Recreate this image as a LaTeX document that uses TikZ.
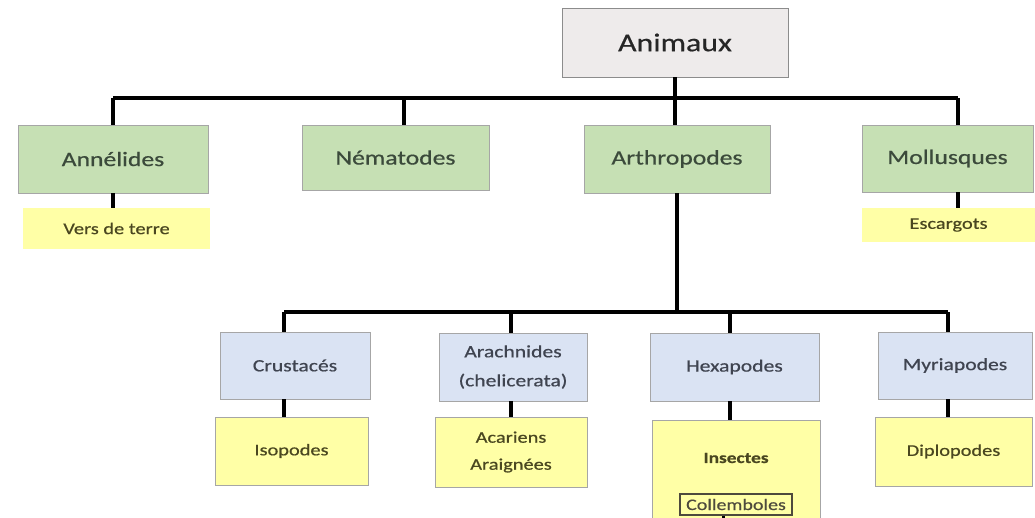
\documentclass[tikz,border=0pt]{standalone}
\usepackage{fontspec}
\setmainfont{Carlito}[FakeStretch=1.25, FakeBold=0.6]
\definecolor{grayfill}{HTML}{EEEBEB}
\definecolor{greenfill}{HTML}{C6E0B4}
\definecolor{bluefill}{HTML}{DAE3F3}
\definecolor{yellowfill}{HTML}{FFFFA6}
\definecolor{boxline}{HTML}{A6A6A6}
\definecolor{gtext}{HTML}{3B4A3B}
\definecolor{btext}{HTML}{3F4450}
\definecolor{ytext}{HTML}{4A4720}
\tikzset{
  basebox/.style={rectangle, draw=boxline, line width=0.9pt, inner sep=0pt, align=center},
  graybox/.style={basebox, fill=grayfill, draw=gray!90, text=black!85, font=\fontsize{25.5}{30}\selectfont},
  greenbox/.style={basebox, fill=greenfill, text=gtext, font=\fontsize{20.5}{25}\selectfont},
  bluebox/.style={basebox, fill=bluefill, text=btext, font=\fontsize{17.3}{29}\selectfont},
  yellowbox/.style={basebox, fill=yellowfill, text=ytext, font=\fontsize{16.3}{27}\selectfont},
  yellowplain/.style={yellowbox, draw=none},
  conn/.style={draw=black, line width=4pt},
}
\begin{document}
\begin{tikzpicture}[x=1pt, y=-1pt]
\useasboundingbox (0,0) rectangle (1035,517);
\clip (0,0) rectangle (1035,517);
% top level
\node[graybox, minimum width=226pt, minimum height=69pt] (anim) at (675,42.5) {Animaux};
\node[greenbox, minimum width=190pt, minimum height=68pt] (ann) at (113,159) {Annélides};
\node[greenbox, minimum width=187pt, minimum height=65pt] (nem) at (395.5,157.5) {Nématodes};
\node[greenbox, minimum width=186pt, minimum height=68pt] (arth) at (677,159) {Arthropodes};
\node[greenbox, minimum width=171pt, minimum height=67pt] (moll) at (947.5,158.5) {Mollusques};
\node[yellowplain, minimum width=187pt, minimum height=41pt] (vers) at (116.5,228.5) {Vers de terre};
\node[yellowplain, minimum width=173pt, minimum height=34pt] (esc) at (948.5,225) {Escargots};
% second level
\node[bluebox, minimum width=150pt, minimum height=67pt] (crus) at (295,365.5) {Crustacés};
\node[bluebox, minimum width=148pt, minimum height=68pt] (arach) at (513,367) {Arachnides\\(chelicerata)};
\node[bluebox, minimum width=169pt, minimum height=68pt] (hexa) at (734.5,367) {Hexapodes};
\node[bluebox, minimum width=154pt, minimum height=67pt] (myri) at (955,365.5) {Myriapodes};
\node[yellowbox, minimum width=153pt, minimum height=68pt] (iso) at (291.5,451) {Isopodes};
\node[yellowbox, minimum width=152pt, minimum height=70pt] (acar) at (511,452) {Acariens\\Araignées};
\node[yellowbox, minimum width=168pt, minimum height=120pt, anchor=north] (ins) at (736,420) {};
\node[text=ytext, font=\bfseries\fontsize{15.5}{18}\selectfont] (insl) at (736,458) {Insectes};
\node[rectangle, draw=black!80!yellow, line width=1.2pt, fill=yellowfill, text=black!80!yellow, inner sep=0pt, minimum width=112pt, minimum height=21pt, font=\fontsize{16}{18}\selectfont] (coll) at (736,504.5) {Collemboles};
\node[yellowbox, minimum width=157pt, minimum height=69pt] (diplo) at (953.5,451.5) {Diplopodes};
% bus coordinates
\coordinate (b1) at (113,98);
\coordinate (b2) at (404,98);
\coordinate (b3) at (677,98);
\coordinate (b4) at (958,98);
\coordinate (c1) at (284,312);
\coordinate (c2) at (511,312);
\coordinate (c3) at (730,312);
\coordinate (c4) at (948,312);
\coordinate (cend) at (723,530);
% top connectors
\draw[conn] (b1) -- (b4);
\draw[conn] (anim.south) -- (anim.south |- arth.north);
\draw[conn] (b1) -- (b1 |- ann.north);
\draw[conn] (b2) -- (b2 |- nem.north);
\draw[conn] (b4) -- (b4 |- moll.north);
\draw[conn] (b1 |- ann.south) -- (b1 |- vers.north);
\draw[conn] (b4 |- moll.south) -- (b4 |- esc.north);
% arthropodes
\draw[conn] (arth.south) -- (arth.south |- c1);
\draw[conn] (c1) -- (c4);
\draw[conn] (c1) -- (c1 |- crus.north);
\draw[conn] (c2) -- (c2 |- arach.north);
\draw[conn] (c3) -- (c3 |- hexa.north);
\draw[conn] (c4) -- (c4 |- myri.north);
\draw[conn] (c1 |- crus.south) -- (c1 |- iso.north);
\draw[conn] (c2 |- arach.south) -- (c2 |- acar.north);
\draw[conn] (c3 |- hexa.south) -- (c3 |- ins.north);
\draw[conn] (c4 |- myri.south) -- (c4 |- diplo.north);
\draw[line width=3pt] (cend |- coll.south) -- (cend);
\end{tikzpicture}
\end{document}
